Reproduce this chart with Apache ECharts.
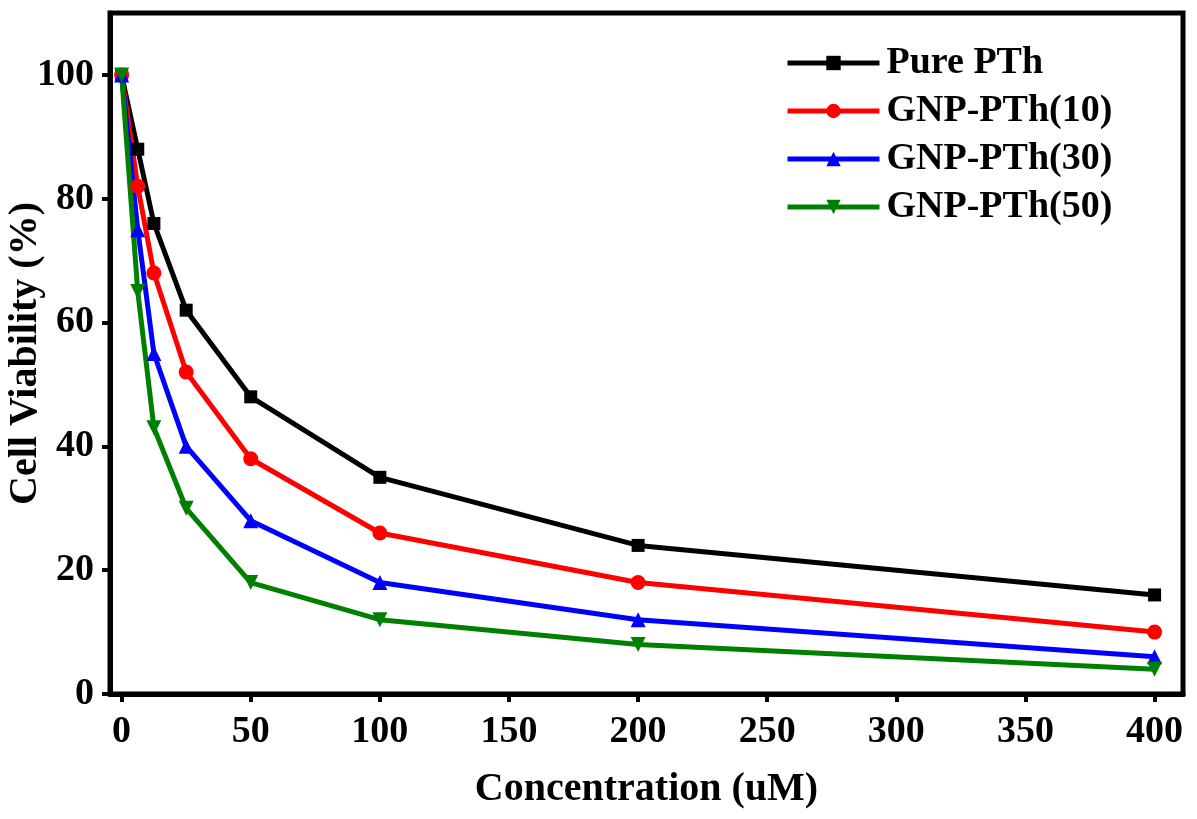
<!DOCTYPE html>
<html>
<head>
<meta charset="utf-8">
<script src="https://cdn.jsdelivr.net/npm/echarts@6/dist/echarts.min.js"></script>
<style>html,body{margin:0;padding:0;background:#fff;}#c{width:1197px;height:819px;}</style>
</head>
<body>
<div id="c"></div>
<script>
const concentrations = [0, 6.25, 12.5, 25, 50, 100, 200, 400];
const purePTh = [100, 88, 76, 62, 48, 35, 24, 16];
const gnp10 = [100, 82, 68, 52, 38, 26, 18, 10];
const gnp30 = [100, 75, 55, 40, 28, 18, 12, 6];
const gnp50 = [100, 65, 43, 30, 18, 12, 8, 4];
const xTicks = [0, 50, 100, 150, 200, 250, 300, 350, 400];
const yTicks = [0, 20, 40, 60, 80, 100];
const seriesNames = ['Pure PTh', 'GNP-PTh(10)', 'GNP-PTh(30)', 'GNP-PTh(50)'];

const font = '"Liberation Serif", "Times New Roman", serif';
function pairs(v){ return concentrations.map((x,i)=>[x, v[i]]); }
function mk(name, data, color, symbol, size, rot){
  return {
    name, type:'line', data: pairs(data), symbol, symbolSize:size, symbolRotate: rot||0,
    lineStyle:{color, width:5}, itemStyle:{color}, emphasis:{disabled:true}
  };
}
const chart = echarts.init(document.getElementById('c'), null, {renderer:'canvas'});
chart.setOption({
  animation:false,
  backgroundColor:'#fff',
  grid:{left:110, right:14, top:13, bottom:125, show:true, borderColor:'#000', borderWidth:5,
        containLabel:false, outerBoundsMode:'none'},
  xAxis:{
    type:'value', min:-4.5, max:411,
    name:'Concentration (uM)', nameLocation:'middle', nameGap:76, nameMoveOverlap:false,
    nameTextStyle:{fontFamily:font, fontWeight:'bold', fontSize:40, color:'#000'},
    axisLine:{show:true, onZero:false, lineStyle:{color:'#000', width:5}},
    axisTick:{show:true, inside:false, length:8, lineStyle:{color:'#000', width:4}, customValues:xTicks},
    axisLabel:{fontFamily:font, fontWeight:'bold', fontSize:38, color:'#000', margin:19, customValues:xTicks},
    splitLine:{show:false}
  },
  yAxis:{
    type:'value', min:0, max:110,
    name:'Cell Viability (%)', nameLocation:'middle', nameGap:64, nameRotate:90, nameMoveOverlap:false,
    nameTextStyle:{fontFamily:font, fontWeight:'bold', fontSize:40, color:'#000'},
    axisLine:{show:true, onZero:false, lineStyle:{color:'#000', width:5}},
    axisTick:{show:true, inside:false, length:8, lineStyle:{color:'#000', width:4}, customValues:yTicks},
    axisLabel:{fontFamily:font, fontWeight:'bold', fontSize:38, color:'#000', margin:16, customValues:yTicks},
    splitLine:{show:false}
  },
  legend:{
    orient:'vertical', left:780, top:39, itemWidth:92, itemHeight:18, itemGap:10,
    lineStyle:{width:5},
    textStyle:{fontFamily:font, fontWeight:'bold', fontSize:38, color:'#000', padding:[0,0,0,2]},
    data: seriesNames
  },
  series:[
    mk(seriesNames[0], purePTh, '#000000', 'rect', 13),
    mk(seriesNames[1], gnp10, '#ff0000', 'circle', 15),
    mk(seriesNames[2], gnp30, '#0000ff', 'triangle', 15),
    mk(seriesNames[3], gnp50, '#008000', 'triangle', 15, 180)
  ]
});
</script>
</body>
</html>
